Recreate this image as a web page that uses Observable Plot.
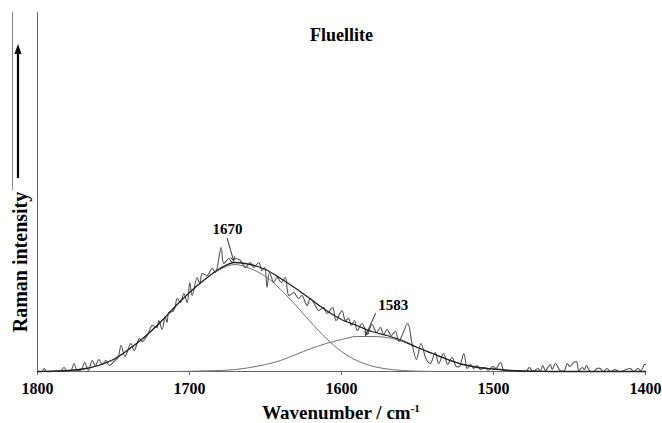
<!DOCTYPE html>
<html>
<head>
<meta charset="utf-8">
<script src="https://cdn.jsdelivr.net/npm/d3@7"></script>
<script src="https://cdn.jsdelivr.net/npm/@observablehq/plot@0.6"></script>
<style>
  html, body { margin: 0; padding: 0; background: #fff; }
  #wrap { position: relative; width: 662px; height: 423px; overflow: hidden; font-family: "Liberation Serif", "Times New Roman", serif; }
  #caption { position: absolute; left: 0; top: 401px; width: 682px; text-align: center; font-size: 19px; line-height: 23px; font-weight: bold; color: #000; }
  #caption sup { font-size: 11px; vertical-align: 7px; line-height: 0; }
  #deco { position: absolute; left: 0; top: 0; }
</style>
</head>
<body>
<div id="wrap">
  <div id="chart"></div>
  <svg id="deco" width="37" height="400">
    <line x1="12.5" y1="12" x2="12.5" y2="190" stroke="#888" stroke-width="1"></line>
    <line x1="18" y1="178" x2="18" y2="52" stroke="#000" stroke-width="2.2"></line>
    <path d="M18,44 L14.5,54 L21.5,54 Z" fill="#000"></path>
    <text x="20" y="262" transform="rotate(-90 20 262)" text-anchor="middle" dominant-baseline="central" font-family="Liberation Serif, Times New Roman, serif" font-weight="bold" font-size="20">Raman intensity</text>
  </svg>
  <div id="caption">Wavenumber / cm<sup>-1</sup></div>
</div>
<script>
// ---- data (intensity in arbitrary units) ----
const rawW = [1800,1797,1795.6,1794,1790,1785,1782.5,1781,1778,1775.9,1774,1771,1769,1766.5,1764,1762,1759.6,1757.5,1755,1752.8,1749,1747,1745,1742.5,1738.6,1736.4,1733,1731,1727.8,1724.5,1721.3,1720.2,1718,1716,1714.8,1713.6,1711,1709.6,1708.1,1705.9,1703.7,1701.5,1699.8,1698.3,1695,1693.2,1691.7,1688.4,1685.1,1682.9,1679.2,1677.5,1674.2,1672,1669.8,1666.5,1663.2,1659.9,1657.7,1654.4,1652.3,1650.5,1649,1647.4,1644.6,1642.4,1639.5,1636.9,1634.7,1631.4,1628.2,1626,1622.7,1620.5,1618.3,1615,1611.7,1609.5,1605.8,1603.6,1599.7,1597.5,1595.3,1593.6,1591.4,1589.7,1586.4,1583.1,1579.9,1577,1574.4,1572.2,1570,1567.4,1564.5,1562.3,1560.2,1556.4,1553.6,1550.7,1547.7,1544.2,1541.5,1538.3,1536.1,1532.8,1530.2,1527.3,1524.5,1522.4,1519.5,1517.3,1515.1,1513,1510.8,1508.6,1505.7,1503.5,1500.5,1498.3,1495.4,1493.2,1490,1481.2,1478.6,1476.4,1474.2,1470.7,1469.2,1467.6,1465.9,1462.6,1461.4,1459.2,1455.9,1453.3,1451.5,1449.8,1447.2,1445.4,1443.9,1441.7,1440.2,1438.8,1436.7,1434,1431.8,1429.7,1427.9,1425.3,1423.1,1419.8,1417.6,1414.3,1410,1407.8,1405.1,1402.9,1400.7,1400];
const rawI = [0,0,3,0,0,0.5,4,0.5,1,8,1,2,9,1,11,6,12,7,11,6,11,14,26,15,28,21,33,30,36,46,44,51,42,55,49,59,60,64,73,69,78,69,89,76,94,88,98,96,103,99,124,108,113,109,113,111,104,109,104,109,101,104,84,99,89,94,89,94,76,79,73,76,66,73,69,61,64,58,64,51,61,51,53,46,51,41,48,38,47,39,44,37,42,36,40,30,36,48,28,12,28,12,8,19,8,18,7,14,5,5,18,3,7,3,6,2,4,1,5,3,9,1,0.5,0,0,4,0,3,0,6,1,7,2,8,0.5,1,8,5,9,10,1,4,2,6,0.5,0,3,3,0,3,0,2,0,1,3,0,3,1,7,7];

const fitW  = [1800,1790,1780,1770,1760,1750,1740,1730,1720,1710,1700,1690,1680,1670,1660,1650,1640,1630,1620,1610,1600,1590,1580,1570,1560,1550,1540,1530,1520,1510,1500,1490,1480,1470,1460,1450,1400];
const fitI  = [0,0.3,1,2.5,6,12,22,34,48,64,79,92,103,109,107,102,93,83,72,61,52,46,40,36,31,24,18,12,7,4,2.5,1.2,0.5,0.2,0,0,0];
const band1I = [0,0.3,1,2.5,6,12,22,34,48,64,79,92,102,107,103,95,82,66,49,33,20,11,5.5,2.5,1,0.3,0,0,0,0,0,0,0,0,0,0,0];
const band2I = [0,0,0,0,0,0,0,0,0,0,0.3,0.6,1,2,4,7,11,17,23,28,32,35,35,34,30,24,18,12,7,4,2.5,1.2,0.5,0.2,0,0,0];

const labelText = ["1670", "1583"];
const labelW = [1675, 1566];
const labelI = [142, 66];
const arrowW1 = [1675.2, 1577.6];
const arrowI1 = [133, 58];
const arrowW2 = [1671, 1584.2];
const arrowI2 = [111, 36];

const xTicks = [1800, 1700, 1600, 1500, 1400];
const title = "Fluellite";

// ---- tables ----
const raw = rawW.map((w, i) => ({w, v: rawI[i]}));
const fit = d3.sort(fitW.map((w, i) => ({w, v: fitI[i]})), d => d.w);
const band1 = d3.sort(fitW.map((w, i) => ({w, v: band1I[i]})), d => d.w);
const band2 = d3.sort(fitW.map((w, i) => ({w, v: band2I[i]})), d => d.w);
const labels = labelText.map((t, i) => ({t, w: labelW[i], v: labelI[i]}));
const arrows = arrowW1.map((w, i) => ({w1: w, v1: arrowI1[i], w2: arrowW2[i], v2: arrowI2[i]}));

const serif = "Liberation Serif, Times New Roman, serif";

const chart = Plot.plot({
  width: 662,
  height: 400,
  marginLeft: 37,
  marginRight: 17,
  marginTop: 12,
  marginBottom: 29,
  style: {fontFamily: serif, background: "white", color: "black"},
  x: {domain: [1800, 1400], label: null},
  y: {domain: [0, 359], axis: null},
  marks: [
    Plot.ruleX([1800], {stroke: "#666", strokeWidth: 1}),
    Plot.ruleY([0], {stroke: "#666", strokeWidth: 1}),
    Plot.axisX({ticks: xTicks, tickSize: 4, tickPadding: 7, tickFormat: d => String(d), fontSize: 16, fontWeight: "bold", stroke: "#666", fill: "black", label: null}),
    Plot.line(band1, {x: "w", y: "v", stroke: "#707070", strokeWidth: 1, curve: "monotone-x"}),
    Plot.line(band2, {x: "w", y: "v", stroke: "#707070", strokeWidth: 1, curve: "monotone-x"}),
    Plot.line(raw, {x: "w", y: "v", stroke: "#555", strokeWidth: 1.1, curve: "catmull-rom"}),
    Plot.line(fit, {x: "w", y: "v", stroke: "#222", strokeWidth: 1.3, curve: "monotone-x"}),
    Plot.arrow(arrows, {x1: "w1", y1: "v1", x2: "w2", y2: "v2", stroke: "#333", strokeWidth: 1, headLength: 6}),
    Plot.text(labels, {x: "w", y: "v", text: "t", fontSize: 15, fontWeight: "bold", fill: "black"}),
    Plot.text([title], {frameAnchor: "top", lineAnchor: "middle", dy: 23, fontSize: 18, fontWeight: "bold", fill: "black"})
  ]
});
document.getElementById("chart").appendChild(chart);
</script>
</body>
</html>
